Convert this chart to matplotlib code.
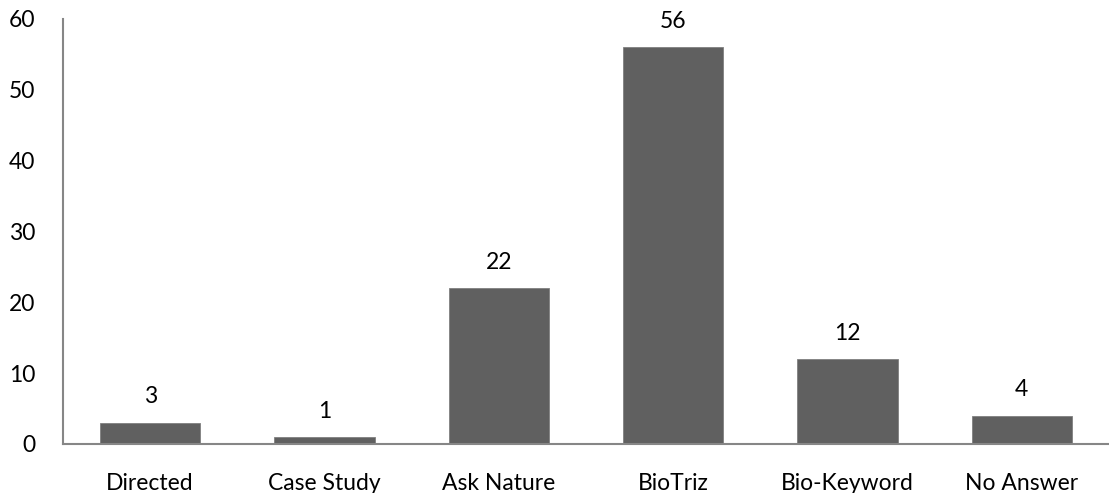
import matplotlib
matplotlib.use("Agg")
import matplotlib.pyplot as plt

categories = ["Directed", "Case Study", "Ask Nature", "BioTriz", "Bio-Keyword", "No Answer"]
counts = [3, 1, 22, 56, 12, 4]
y_ticks = [0, 10, 20, 30, 40, 50, 60]

plt.rcParams["font.family"] = ["Lato", "DejaVu Sans"]

fig = plt.figure(figsize=(11.09, 4.93), dpi=100)
ax = fig.add_axes([0.0568, 0.0994, 0.9432, 0.8621])

x = range(len(categories))
bars = ax.bar(x, counts, width=0.575, color="#606060", edgecolor="#808080", linewidth=0.6)

for xi, v in zip(x, counts):
    ax.annotate(str(v), (xi, v), xytext=(0, 11), textcoords="offset points",
                ha="center", va="bottom", fontsize=16.5, color="#000000")

ax.set_xlim(-0.5, len(categories) - 0.5)
ax.set_ylim(0, 60)
ax.set_yticks(y_ticks)
ax.set_xticks(list(x))
ax.set_xticklabels(categories)

for side in ("top", "right"):
    ax.spines[side].set_visible(False)
for side in ("left", "bottom"):
    ax.spines[side].set_color("#868686")
    ax.spines[side].set_linewidth(1.5)

ax.tick_params(axis="y", length=0, pad=20, labelsize=16.5)
ax.tick_params(axis="x", length=0, pad=21, labelsize=16.5)

fig.savefig("out.png", dpi=100)
